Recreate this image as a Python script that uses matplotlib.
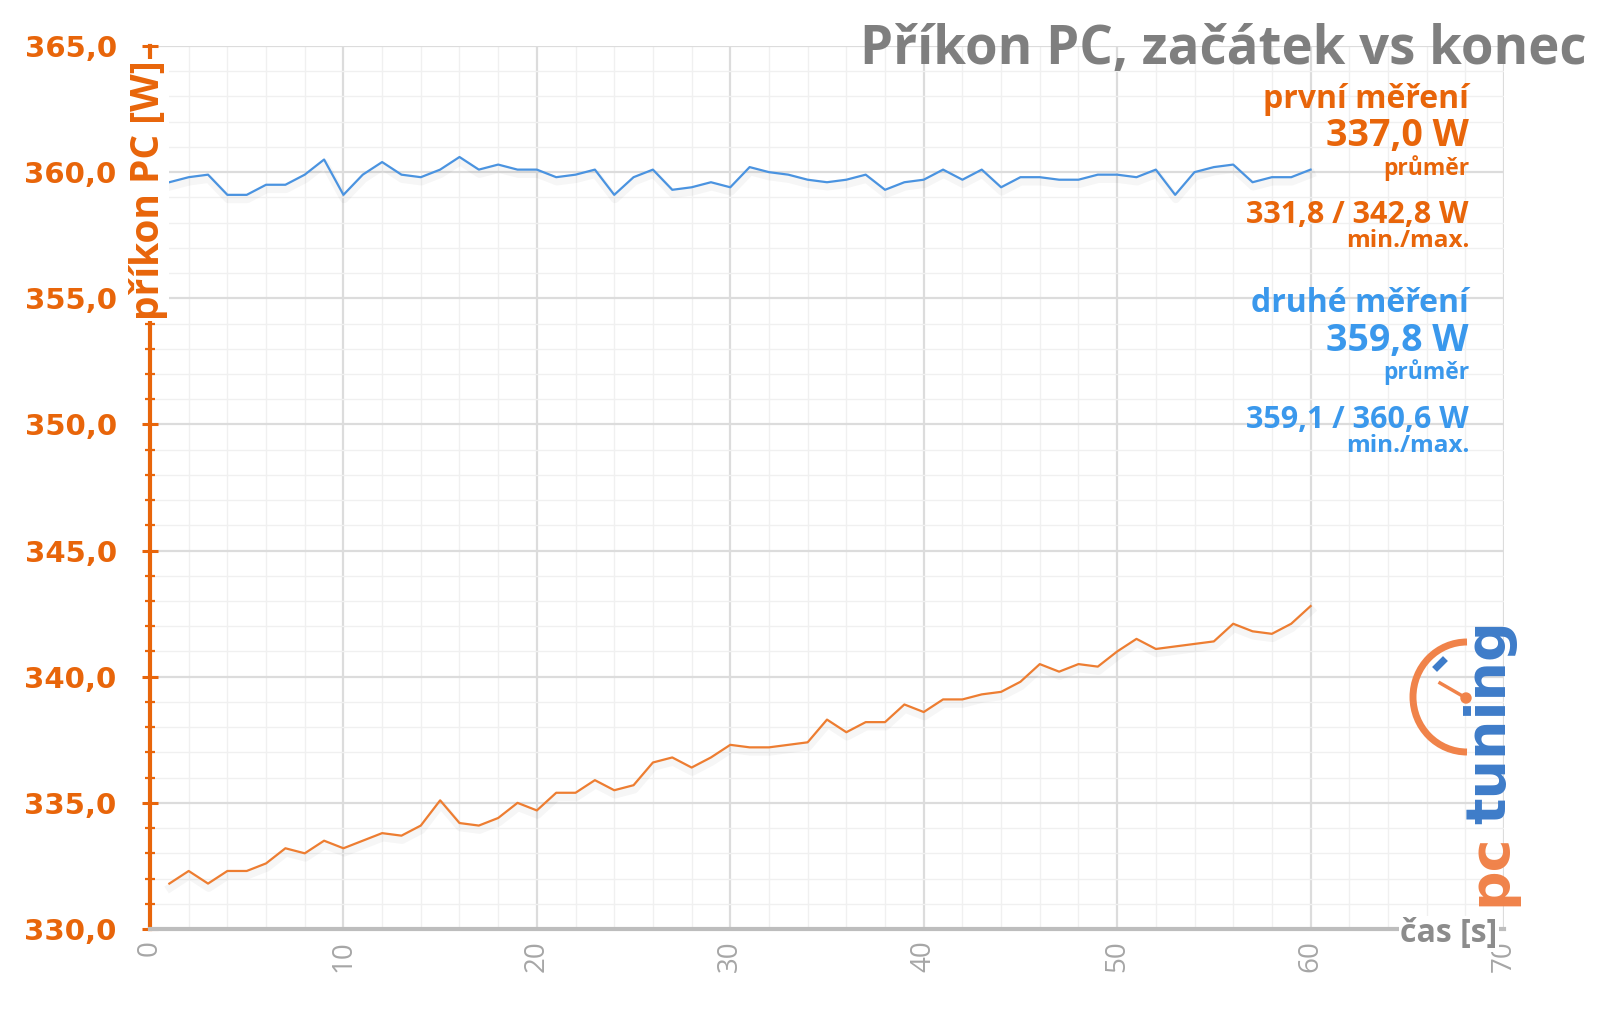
import numpy as np
import matplotlib
matplotlib.use('Agg')
import matplotlib.pyplot as plt
import matplotlib.patheffects as pe
from matplotlib.patches import Arc, Circle
from matplotlib.lines import Line2D
from matplotlib.ticker import MultipleLocator, FuncFormatter

# data
cas = list(range(1, 61))
prvni = [331.8, 332.3, 331.8, 332.3, 332.3, 332.6, 333.2, 333.0, 333.5, 333.2,
         333.5, 333.8, 333.7, 334.1, 335.1, 334.2, 334.1, 334.4, 335.0, 334.7,
         335.4, 335.4, 335.9, 335.5, 335.7, 336.6, 336.8, 336.4, 336.8, 337.3,
         337.2, 337.2, 337.3, 337.4, 338.3, 337.8, 338.2, 338.2, 338.9, 338.6,
         339.1, 339.1, 339.3, 339.4, 339.8, 340.5, 340.2, 340.5, 340.4, 341.0,
         341.5, 341.1, 341.2, 341.3, 341.4, 342.1, 341.8, 341.7, 342.1, 342.8]
druhe = [359.6, 359.8, 359.9, 359.1, 359.1, 359.5, 359.5, 359.9, 360.5, 359.1,
         359.9, 360.4, 359.9, 359.8, 360.1, 360.6, 360.1, 360.3, 360.1, 360.1,
         359.8, 359.9, 360.1, 359.1, 359.8, 360.1, 359.3, 359.4, 359.6, 359.4,
         360.2, 360.0, 359.9, 359.7, 359.6, 359.7, 359.9, 359.3, 359.6, 359.7,
         360.1, 359.7, 360.1, 359.4, 359.8, 359.8, 359.7, 359.7, 359.9, 359.9,
         359.8, 360.1, 359.1, 360.0, 360.2, 360.3, 359.6, 359.8, 359.8, 360.1]

popis_prvni = ['první měření', '337,0 W', 'průměr', '331,8 / 342,8 W', 'min./max.']
popis_druhe = ['druhé měření', '359,8 W', 'průměr', '359,1 / 360,6 W', 'min./max.']

ORANZ = '#E8650A'
ORANZ_CARA = '#ED7D31'
MODRA = '#3A98EC'
MODRA_CARA = '#4A93E0'
SEDA = '#7F7F7F'

W, H = 1600, 1011
fig = plt.figure(figsize=(W / 100, H / 100), dpi=100)
ax = fig.add_axes([150 / W, 1 - 929 / H, (1504 - 150) / W, (929 - 46) / H])

stin = [pe.SimpleLineShadow(offset=(0.5, -3), alpha=0.035, linewidth=6), pe.Normal()]
ax.plot(cas, druhe, color=MODRA_CARA, lw=1.6, zorder=3, path_effects=stin)
ax.plot(cas, prvni, color=ORANZ_CARA, lw=1.6, zorder=3, path_effects=stin)

ax.set_xlim(0, 70)
ax.set_ylim(330, 365)
ax.xaxis.set_major_locator(MultipleLocator(10))
ax.xaxis.set_minor_locator(MultipleLocator(2))
ax.yaxis.set_major_locator(MultipleLocator(5))
ax.yaxis.set_minor_locator(MultipleLocator(1))
ax.yaxis.set_major_formatter(FuncFormatter(lambda v, p: f'{v:.1f}'.replace('.', ',')))

ax.grid(which='major', color='#dcdcdc', lw=1.6, zorder=0)
ax.grid(which='minor', color='#f0f0f0', lw=1.0, zorder=0)
ax.set_axisbelow(True)

for s in ['top', 'right']:
    ax.spines[s].set_visible(False)
ax.spines['left'].set_color(ORANZ)
ax.spines['left'].set_linewidth(3)
ax.spines['bottom'].set_color('#bdbdbd')
ax.spines['bottom'].set_linewidth(3)

ax.tick_params(axis='y', which='major', direction='inout', length=12, width=2.2,
               color=ORANZ, labelcolor=ORANZ, labelsize=21, pad=18)
ax.tick_params(axis='y', which='minor', direction='inout', length=7, width=1.6,
               color=ORANZ)
for t in ax.get_yticklabels():
    t.set_fontweight('bold')
ax.tick_params(axis='x', which='major', length=0, labelcolor='#a6a6a6',
               labelsize=20, labelrotation=90, pad=8)
ax.tick_params(axis='x', which='minor', length=0)
for t in ax.get_xticklabels():
    t.set_family('Open Sans')

# titulek a popisky os
fig.text(1586 / W, 1 - 50 / H, 'Příkon PC, začátek vs konec', ha='right', va='center',
         color=SEDA, fontsize=38, fontweight='bold', family='Open Sans')
fig.text(148 / W, 1 - 190 / H, 'příkon PC [W]', rotation=90, ha='center', va='center',
         color=ORANZ, fontsize=28, fontweight='bold', family='Open Sans',
         bbox=dict(facecolor='white', edgecolor='none', pad=1))
fig.text(1449 / W, 1 - 934 / H, 'čas [s]', ha='center', va='center',
         color='#8c8c8c', fontsize=23, fontweight='bold', family='Open Sans',
         bbox=dict(facecolor='white', edgecolor='none', pad=1))

# souhrny vpravo
velikosti = [23, 27, 16.5, 22, 17.5]
y_prvni = [100, 136, 168, 215, 241]
y_druhe = [303, 341, 372, 420, 446]
for txt, fs, yy in zip(popis_prvni, velikosti, y_prvni):
    fig.text(1469 / W, 1 - yy / H, txt, ha='right', va='center', color=ORANZ,
             fontsize=fs, fontweight='bold', family='Open Sans')
for txt, fs, yy in zip(popis_druhe, velikosti, y_druhe):
    fig.text(1469 / W, 1 - yy / H, txt, ha='right', va='center', color=MODRA,
             fontsize=fs, fontweight='bold', family='Open Sans')

# logo pctuning
fig.text(1490 / W, 1 - 906 / H, 'pc', rotation=90, ha='center', va='bottom',
         color='#F0834A', fontsize=40, fontweight='bold', family='DejaVu Sans')
fig.text(1490 / W, 1 - 824 / H, 'tuning', rotation=90, ha='center', va='bottom',
         color='#3E7CC9', fontsize=40, fontweight='bold', family='DejaVu Sans')
cx, cy = 1467 / 100, (H - 697) / 100
fig.patches.append(Arc((cx, cy), 1.08, 1.1, theta1=90, theta2=270, lw=5,
                       color='#F0834A', transform=fig.dpi_scale_trans, figure=fig))
fig.lines.append(Line2D([cx - 0.27, cx - 0.01], [cy + 0.14, cy - 0.01], lw=2.5,
                        color='#F0834A', transform=fig.dpi_scale_trans, figure=fig))
fig.patches.append(Circle((cx - 0.01, cy - 0.01), 0.05, color='#F0834A',
                          transform=fig.dpi_scale_trans, figure=fig))
fig.lines.append(Line2D([cx - 0.3, cx - 0.24], [cy + 0.3, cy + 0.36], lw=5,
                        color='#3E7CC9', transform=fig.dpi_scale_trans, figure=fig))

fig.savefig('out.png', dpi=100)
